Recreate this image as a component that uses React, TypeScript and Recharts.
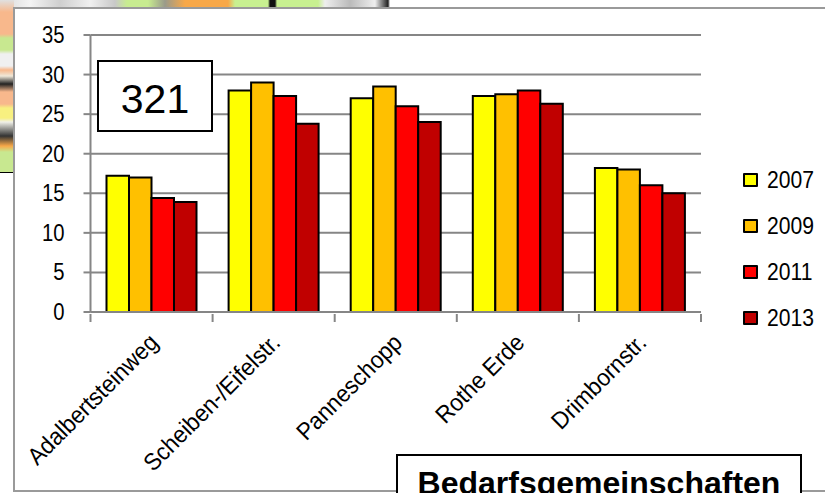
import React from 'react';
import { BarChart, Bar, XAxis, YAxis, CartesianGrid, Legend } from 'recharts';

const categories = ['Adalbertsteinweg', 'Scheiben-/Eifelstr.', 'Panneschopp', 'Rothe Erde', 'Drimbornstr.'];
const values2007 = [17.2, 28, 27, 27.3, 18.2];
const values2009 = [17, 29, 28.5, 27.5, 18];
const values2011 = [14.4, 27.3, 26, 28, 16];
const values2013 = [13.9, 23.8, 24, 26.3, 15];
const yTicks = [0, 5, 10, 15, 20, 25, 30, 35];

const chartData = categories.map((name, i) => ({
  name,
  y2007: values2007[i],
  y2009: values2009[i],
  y2011: values2011[i],
  y2013: values2013[i],
}));

const FONT = '"Liberation Sans", Arial, sans-serif';
const AXIS_GRAY = '#868686';

const YTick = ({ x, y, payload }: any) => (
  <text
    transform={`translate(${x - 17},${y + 8}) scale(0.88,1)`}
    textAnchor="end"
    fontFamily={FONT}
    fontSize={23}
    fill="#000"
  >
    {payload.value}
  </text>
);

// ticks sit between the categories in the original, so they are drawn here
const XTick = ({ x, y, payload, index, width }: any) => {
  const half = width / categories.length / 2;
  return (
    <g>
      <line x1={x - half} x2={x - half} y1={y - 8} y2={y} stroke={AXIS_GRAY} strokeWidth={2} />
      {index === categories.length - 1 && (
        <line x1={x + half} x2={x + half} y1={y - 8} y2={y} stroke={AXIS_GRAY} strokeWidth={2} />
      )}
      <text
        transform={`translate(${x + 8},${y + 22}) rotate(-45) scale(0.94,1)`}
        textAnchor="end"
        fontFamily={FONT}
        fontSize={24}
        fill="#000"
      >
        {payload.value}
      </text>
    </g>
  );
};

const YearLegend = ({ payload }: any) => (
  <div style={{ fontFamily: FONT }}>
    {payload.map((p: any) => (
      <div key={p.value} style={{ height: 46, display: 'flex', alignItems: 'center' }}>
        <span
          style={{
            width: 11,
            height: 10,
            background: p.color,
            border: '2px solid #000',
            borderRadius: 1,
            marginRight: 9,
          }}
        />
        <span style={{ fontSize: 24, display: 'inline-block', transform: 'scaleX(0.88)', transformOrigin: 'left' }}>
          {p.value}
        </span>
      </div>
    ))}
  </div>
);

const boxStyle: React.CSSProperties = {
  position: 'absolute',
  background: '#fff',
  border: '2px solid #000',
  boxSizing: 'border-box',
  fontFamily: FONT,
  color: '#000',
  textAlign: 'center',
  zIndex: 5,
};

export default function App() {
  return (
    <div style={{ position: 'fixed', left: 0, top: 0, width: 825, height: 493, overflow: 'hidden', background: '#fff' }}>
      {/* bit of the map behind the chart */}
      <div
        style={{
          position: 'absolute',
          left: 0,
          top: 0,
          width: 390,
          height: 8,
          background:
            'linear-gradient(90deg,#d8d8d8 0,#f4f4f4 30px,#cfcfcf 60px,#f0f0f0 90px,#c8c8c8 115px,#c8ec90 127px,#c8ec90 148px,#9a9a8a 165px,#f8a848 185px,#f8a848 228px,#c8f090 235px,#c8f090 268px,#111 270px,#111 275px,#c8f090 277px,#c8f090 318px,#eeeeee 325px,#bbbbbb 350px,#eeeeee 375px,#222 388px,#fff 390px)',
        }}
      />
      <div
        style={{
          position: 'absolute',
          left: 0,
          top: 0,
          width: 14,
          height: 172,
          borderBottom: '1.5px solid #000',
          background:
            'linear-gradient(180deg,#e0e0e0 0,#f8b88c 12px,#f8b88c 34px,#c8e890 38px,#c8e890 50px,#f0f0f0 54px,#f0f0f0 66px,#f8b88c 70px,#f0e8d8 76px,#222 84px,#f8b88c 92px,#f8b88c 104px,#f8f080 108px,#f8f080 118px,#f0f0e8 122px,#333 136px,#f8a848 146px,#c8e890 152px,#c8e890 172px)',
        }}
      />
      <div
        style={{
          position: 'absolute',
          left: 13,
          top: 7,
          width: 830,
          height: 485,
          background: '#fff',
          border: '2px solid #9a9a9a',
          boxSizing: 'border-box',
        }}
      />
      <div style={{ position: 'absolute', left: 0, top: 0 }}>
        <BarChart
          width={825}
          height={493}
          data={chartData}
          barSize={22.5}
          barGap={0}
          margin={{ top: 35, right: 44, bottom: 0, left: 0 }}
        >
          <CartesianGrid vertical={false} horizontal stroke={AXIS_GRAY} strokeWidth={2} />
          <XAxis
            dataKey="name"
            interval={0}
            tick={<XTick />}
            tickLine={false}
            tickSize={8}
            height={181}
            axisLine={{ stroke: AXIS_GRAY, strokeWidth: 2 }}
          />
          <YAxis
            width={90.5}
            domain={[0, 35]}
            ticks={yTicks}
            interval={0}
            tick={<YTick />}
            tickSize={7}
            axisLine={{ stroke: AXIS_GRAY, strokeWidth: 2 }}
            tickLine={{ stroke: AXIS_GRAY, strokeWidth: 2 }}
          />
          <Legend
            layout="vertical"
            align="right"
            verticalAlign="middle"
            content={<YearLegend />}
            wrapperStyle={{ position: 'absolute', left: 743, top: 157, width: 80 }}
          />
          <Bar dataKey="y2007" name="2007" fill="#FFFF00" stroke="#000" strokeWidth={2} isAnimationActive={false} />
          <Bar dataKey="y2009" name="2009" fill="#FFC000" stroke="#000" strokeWidth={2} isAnimationActive={false} />
          <Bar dataKey="y2011" name="2011" fill="#FF0000" stroke="#000" strokeWidth={2} isAnimationActive={false} />
          <Bar dataKey="y2013" name="2013" fill="#C00000" stroke="#000" strokeWidth={2} isAnimationActive={false} />
        </BarChart>
      </div>
      <div style={{ ...boxStyle, left: 97, top: 60, width: 116, height: 72, fontSize: 41, lineHeight: '74px' }}>321</div>
      <div
        style={{
          ...boxStyle,
          left: 396,
          top: 454,
          width: 406,
          height: 60,
          fontSize: 32,
          fontWeight: 700,
          lineHeight: '54px',
        }}
      >
        Bedarfsgemeinschaften
      </div>
    </div>
  );
}
